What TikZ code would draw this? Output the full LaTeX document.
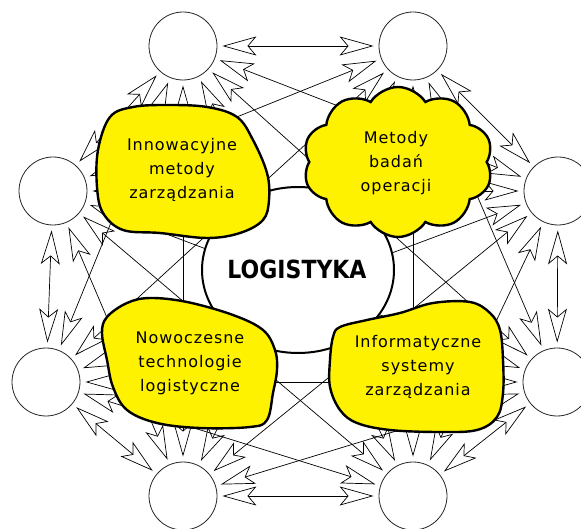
\documentclass[tikz,border=0pt]{standalone}
\usepackage{fontspec}
\usepackage{graphicx}
\setmainfont{DejaVu Sans}
\usetikzlibrary{arrows.meta,shapes.geometric,shapes.symbols}
\tikzset{
  ring/.style={circle,draw=black!85,line width=0.8pt,fill=white,minimum size=68pt,inner sep=0pt},
  tipa/.tip={Stealth[open,length=34pt,width=19pt,inset=8pt]},
  link/.style={tipa-tipa,line width=0.7pt,shorten <=5pt,shorten >=5pt,line join=miter},
  blob/.style={draw=black,fill=yellow,line width=2.4pt,line join=round},
  label/.style={align=center,inner sep=0pt,font=\addfontfeature{LetterSpace=6}\fontsize{16}{24}\selectfont}
}
\begin{document}
\begin{tikzpicture}[x=1pt,y=-1pt]
\useasboundingbox (0,0) rectangle (581,529);
\clip (0,0) rectangle (581,529);
% outer circles
\node[ring] (TL) at (183,46) {};
\node[ring] (TR) at (413,46) {};
\node[ring] (LU) at (53,191) {};
\node[ring] (RU) at (558,191) {};
\node[ring] (LL) at (46,382) {};
\node[ring] (RL) at (557,382) {};
\node[ring] (BL) at (183,496) {};
\node[ring] (BR) at (413,496) {};
% connectors (complete graph)
\foreach \a/\b in {TL/TR,TL/RU,TL/RL,TL/BR,TL/BL,TL/LL,TL/LU,
                   TR/RU,TR/RL,TR/BR,TR/BL,TR/LL,TR/LU,
                   RU/RL,RU/BR,RU/BL,RU/LL,RU/LU,
                   RL/BR,RL/BL,RL/LL,RL/LU,
                   BR/BL,BR/LL,BR/LU,
                   BL/LL,BL/LU,
                   LL/LU}
  \draw[link] (\a) -- (\b);
% central ellipse
\node[ellipse,draw=black,line width=2pt,fill=white,minimum width=192pt,minimum height=166pt,inner sep=0pt] (C) at (298,270) {};
\node (Ct) at (297,269) {\fontsize{25}{30}\selectfont\bfseries\scalebox{0.88}[1]{LOGISTYKA}};
% blobs
\draw[blob] plot[smooth cycle,tension=0.6] coordinates {(110,117) (133,107) (167,105) (207,107) (237,117) (253,140) (267,173) (269,200) (263,220) (240,233) (207,238) (160,233) (123,230) (103,213) (97,187) (98,150)};
\node[cloud,cloud puffs=10,cloud puff arc=115,aspect=1.27,draw=black,fill=yellow,line width=2.4pt,minimum width=190pt,minimum height=150pt,inner sep=0pt] (B2) at (398,162) {};
\draw[blob] plot[smooth cycle,tension=0.6] coordinates {(107,317) (127,303) (150,298) (187,302) (233,315) (263,330) (275,350) (277,370) (273,393) (267,420) (250,427) (200,428) (157,423) (127,410) (113,387) (107,360) (102,333)};
\draw[blob] plot[smooth cycle,tension=0.6] coordinates {(340,327) (367,320) (400,313) (433,303) (470,302) (490,313) (500,330) (503,360) (503,393) (497,417) (477,430) (440,432) (390,430) (357,423) (340,410) (330,387) (330,360) (333,337)};
% texts
\node[label] (T1) at (182,170) {Innowacyjne\\metody\\zarządzania};
\node[label] (T2) at (396,163) {Metody\\badań\\operacji};
\node[label] (T3) at (190,363) {Nowoczesne\\technologie\\logistyczne};
\node[label] (T4) at (418,367) {Informatyczne\\systemy\\zarządzania};
\end{tikzpicture}
\end{document}
